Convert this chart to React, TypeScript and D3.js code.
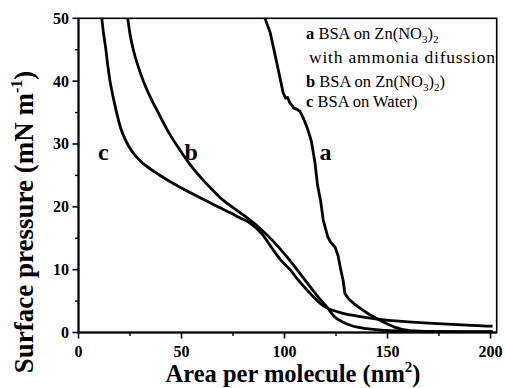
import React from "react";
import * as d3 from "d3";

// curve a: BSA on Zn(NO3)2 with ammonia diffusion
const curveA: [number, number][] = [
  [90, 51], [90.5, 50], [93, 47.8], [95.2, 44.5], [97.5, 41], [99.3, 38.2],
  [100.5, 37.3], [101.5, 37.4], [102.5, 36.6], [103.5, 36.2], [104.5, 35.7],
  [106, 35.5], [107.5, 35.2], [109, 34.2], [111, 32.6], [113, 30.5],
  [114.8, 27], [116, 23.5], [117.5, 21], [118.8, 17.9], [121, 15.2],
  [122.5, 14.3], [124.5, 13.6], [126, 12.2], [127.3, 10], [128.5, 8.2],
  [129.3, 6.2], [131, 5.4], [134, 4.5], [137, 3.8], [141, 2.9], [145, 2.2],
  [149, 1.5], [153, 0.9], [157, 0.5], [161, 0.3], [170, 0.15], [185, 0.1],
  [201, 0.1],
];

// curve b: BSA on Zn(NO3)2
const curveB: [number, number][] = [
  [23.9, 50], [25, 47.5], [26.6, 45], [28.8, 42.5], [31.5, 40], [34.8, 37.5],
  [38.7, 35], [43.5, 32], [49.3, 29], [54, 26.8], [59, 24.8], [65, 22.7],
  [70, 21.1], [74, 20.1], [80, 18.7], [88, 16.6], [94, 14.7], [101, 12.1],
  [107, 9.6], [112.4, 7.3], [117, 5.4], [120.5, 4.1], [124, 2.6], [128, 1.7],
  [132, 1.15], [136, 0.8], [140, 0.6], [147, 0.38], [155, 0.25], [170, 0.18],
  [185, 0.14], [201, 0.12],
];

// curve c: BSA on water
const curveC: [number, number][] = [
  [11.3, 50], [12.2, 47.5], [13.3, 45], [14.2, 42.5], [15.3, 40], [16.8, 37.5],
  [18.5, 35], [20.5, 32.5], [23, 30.5], [26, 28.8], [30, 27.3], [35, 26],
  [40, 24.9], [45, 23.9], [50, 23], [57, 21.8], [63, 20.8], [69, 19.8],
  [74, 19], [78, 18.3], [83.3, 17.4], [89, 15.7], [94.6, 13.1], [98, 11.6],
  [102.7, 10], [106.5, 8.4], [110.8, 6.8], [114, 5.7], [117.2, 4.65],
  [120, 4.0], [123.7, 3.5], [128, 3.1], [132, 2.8], [140, 2.35], [148, 2.0],
  [160, 1.7], [172, 1.45], [186, 1.2], [201, 1.0],
];

const xMajor = [0, 50, 100, 150, 200];
const xMinor = [25, 75, 125, 175];
const yMajor = [0, 10, 20, 30, 40, 50];
const yMinor = [5, 15, 25, 35, 45];

const curveLabels = [
  { text: "a", x: 117, y: 27.5 },
  { text: "b", x: 51.5, y: 27.5 },
  { text: "c", x: 9.5, y: 27.5 },
];

const W = 505;
const H = 388;
const left = 78.5;
const right = 496.7;
const top = 18.3;
const bottom = 332.5;

const serif = "Liberation Serif, Times New Roman, serif";

export default function App() {
  const x = d3.scaleLinear().domain([0, 203]).range([left, right]);
  const y = d3.scaleLinear().domain([0, 50]).range([bottom, top]);

  const smooth = d3
    .line<[number, number]>()
    .x((d) => x(d[0]))
    .y((d) => y(d[1]))
    .curve(d3.curveMonotoneX);
  const jagged = d3
    .line<[number, number]>()
    .x((d) => x(d[0]))
    .y((d) => y(d[1]));

  return (
    <svg
      width={W}
      height={H}
      style={{ position: "absolute", left: 0, top: 0, background: "#fff", fontFamily: serif }}
    >
      <defs>
        <clipPath id="plot">
          <rect x={left} y={top} width={right - left} height={bottom - top} />
        </clipPath>
      </defs>

      <g clipPath="url(#plot)" fill="none" stroke="#000" strokeWidth={2.8} strokeLinejoin="round">
        <path d={smooth(curveC) ?? ""} />
        <path d={smooth(curveB) ?? ""} />
        <path d={jagged(curveA) ?? ""} />
      </g>

      {/* frame */}
      <rect x={left} y={top} width={right - left} height={bottom - top} fill="none" stroke="#000" strokeWidth={1.6} />
      <line x1={left} x2={left} y1={top} y2={bottom} stroke="#000" strokeWidth={2} />
      <line x1={left} x2={right} y1={bottom} y2={bottom} stroke="#000" strokeWidth={2} />

      {/* x ticks */}
      {xMajor.map((v) => (
        <g key={"xM" + v}>
          <line x1={x(v)} x2={x(v)} y1={bottom} y2={bottom + 6} stroke="#000" strokeWidth={1.6} />
          <text x={x(v)} y={357} textAnchor="middle" fontSize={16} fontWeight="bold">
            {v}
          </text>
        </g>
      ))}
      {xMinor.map((v) => (
        <line key={"xm" + v} x1={x(v)} x2={x(v)} y1={bottom} y2={bottom + 3.5} stroke="#000" strokeWidth={1.4} />
      ))}

      {/* y ticks */}
      {yMajor.map((v) => (
        <g key={"yM" + v}>
          <line x1={left - 6} x2={left} y1={y(v)} y2={y(v)} stroke="#000" strokeWidth={1.6} />
          <text x={69} y={y(v) + 5.5} textAnchor="end" fontSize={16} fontWeight="bold">
            {v}
          </text>
        </g>
      ))}
      {yMinor.map((v) => (
        <line key={"ym" + v} x1={left - 3.5} x2={left} y1={y(v)} y2={y(v)} stroke="#000" strokeWidth={1.4} />
      ))}

      {/* axis titles */}
      <text x={293} y={382} textAnchor="middle" fontSize={24.5} fontWeight="bold">
        Area per molecule (nm
        <tspan dy={-10} fontSize={15}>2</tspan>
        <tspan dy={10}>)</tspan>
      </text>
      <text
        transform={`translate(33, 222) rotate(-90)`}
        textAnchor="middle"
        fontSize={27}
        fontWeight="bold"
      >
        Surface pressure (mN m
        <tspan dy={-11} fontSize={16}>-1</tspan>
        <tspan dy={11}>)</tspan>
      </text>

      {/* curve labels */}
      {curveLabels.map((l) => (
        <text key={l.text} x={x(l.x)} y={y(l.y)} fontSize={24} fontWeight="bold">
          {l.text}
        </text>
      ))}

      {/* legend */}
      <g fontSize={16.5}>
        <text x={306} y={39.3}>
          <tspan fontWeight="bold">a</tspan> BSA on Zn(NO
          <tspan dy={4} fontSize={11}>3</tspan>
          <tspan dy={-4}>)</tspan>
          <tspan dy={4} fontSize={11}>2</tspan>
        </text>
        <text x={309} y={63.3} fontSize={17.5} textLength={186} lengthAdjust="spacing">
          with ammonia difussion
        </text>
        <text x={306} y={86.7}>
          <tspan fontWeight="bold">b</tspan> BSA on Zn(NO
          <tspan dy={4} fontSize={11}>3</tspan>
          <tspan dy={-4}>)</tspan>
          <tspan dy={4} fontSize={11}>2</tspan>
          <tspan dy={-4}>)</tspan>
        </text>
        <text x={306} y={107.3}>
          <tspan fontWeight="bold">c</tspan> BSA on Water)
        </text>
      </g>
    </svg>
  );
}
